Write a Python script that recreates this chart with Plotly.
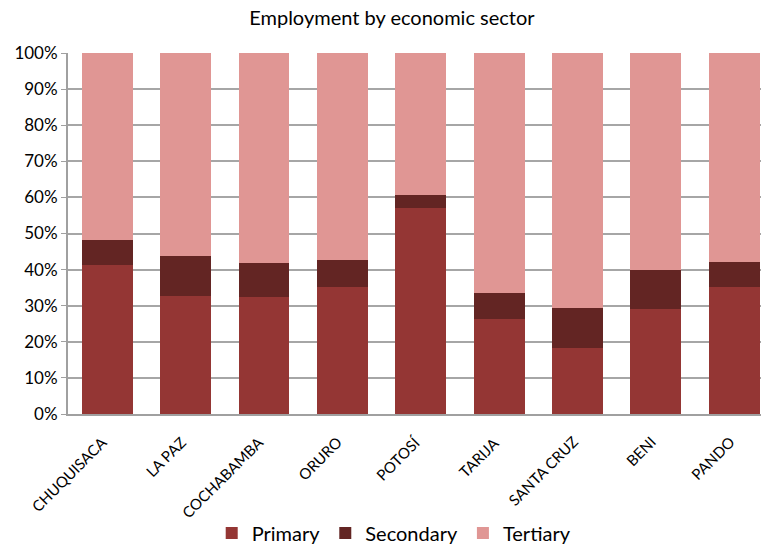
import plotly.graph_objects as go

departments = ["CHUQUISACA", "LA PAZ", "COCHABAMBA", "ORURO", "POTOSÍ",
               "TARIJA", "SANTA CRUZ", "BENI", "PANDO"]
primary = [41.3, 32.7, 32.4, 35.3, 57.0, 26.3, 18.2, 29.0, 35.1]
secondary = [6.9, 11.1, 9.3, 7.4, 3.7, 7.1, 11.2, 10.9, 7.0]
tertiary = [round(100 - p - s, 1) for p, s in zip(primary, secondary)]

series = [
    ("Primary", primary, "#943634"),
    ("Secondary", secondary, "#632523"),
    ("Tertiary", tertiary, "#E09694"),
]

fig = go.Figure()
for name, vals, color in series:
    fig.add_trace(go.Bar(
        x=departments, y=[v / 100 for v in vals], name=name,
        marker=dict(color=color, line=dict(width=0)),
    ))

# Slanted category names, right end sitting just under each bar
for dep in departments:
    fig.add_annotation(
        x=dep, y=0, xref="x", yref="y", text=dep, showarrow=False,
        textangle=-45, xanchor="right", yanchor="top",
        xshift=6, yshift=-16,
        font=dict(family="Liberation Sans Narrow, Lato, sans-serif", size=15),
    )

fig.update_layout(
    width=761, height=544,
    barmode="stack", bargap=0.35,
    plot_bgcolor="white", paper_bgcolor="white",
    font=dict(family="Lato, Open Sans, sans-serif", color="#000000"),
    title=dict(text="Employment by economic sector", x=0.515,
               xanchor="center", y=0.967, yanchor="middle",
               font=dict(size=20)),
    margin=dict(l=68, r=0, t=53, b=0, autoexpand=False),
    legend=dict(orientation="h", x=0.47, xanchor="center", y=0.0224,
                yanchor="middle", font=dict(size=20), traceorder="normal",
                itemwidth=30),
    xaxis=dict(range=[-0.5, 8.34], showticklabels=False,
               showline=True, linecolor="#a0a0a0", linewidth=2,
               showgrid=False, ticks="", automargin=False),
    yaxis=dict(domain=[130 / 491, 1], range=[0, 1], tickformat=".0%",
               dtick=0.1, tickfont=dict(size=17), showgrid=True,
               gridcolor="#a6a6a6", gridwidth=1.5, showline=True,
               linecolor="#a0a0a0", linewidth=2, ticks="outside", ticklen=5,
               tickcolor="#a0a0a0", zeroline=False, automargin=False),
)

fig.write_html("out.html")
